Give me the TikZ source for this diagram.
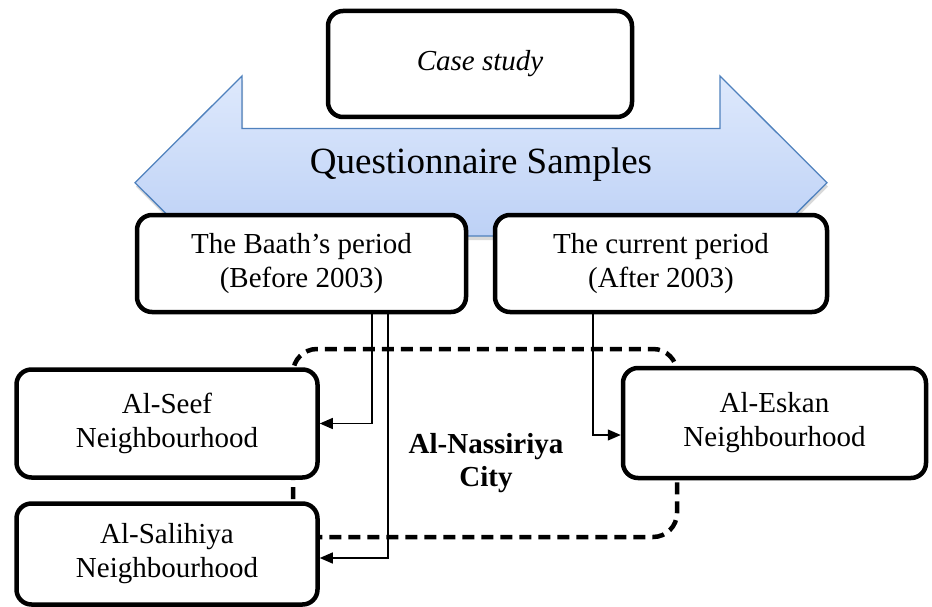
\documentclass[tikz,border=0pt]{standalone}
\usepackage{fontspec}
\setmainfont{Liberation Serif}
\usetikzlibrary{arrows.meta,shadows,calc}

\definecolor{arrowtop}{RGB}{222,233,252}
\definecolor{arrowbot}{RGB}{178,201,244}
\definecolor{arrowedge}{RGB}{79,129,189}

\tikzset{
  box/.style={draw=black, fill=white, line width=4.5pt, rounded corners=15pt,
    align=center, inner sep=0pt, font=\fontsize{29}{34}\selectfont},
  cityframe/.style={draw=black, line width=4.5pt, rounded corners=24pt,
    dash pattern=on 12pt off 7pt},
  conn/.style={line width=1.3pt, -{Triangle[length=13pt,width=11pt]}},
}

\begin{document}
\begin{tikzpicture}[x=1pt,y=-1pt]
  \useasboundingbox (0,0) rectangle (932,607);

  % dashed outline of the city area
  \draw[cityframe] (293,349) rectangle (677,537);

  % double-headed banner arrow
  \path[draw=arrowedge, line width=1.3pt, line join=miter,
        top color=arrowtop, bottom color=arrowbot,
        drop shadow={opacity=0.3, shadow xshift=1pt, shadow yshift=-4pt}]
    (242,128.5) -- (242,76) -- (135,182.7) -- (242,289.4) -- (242,236)
    -- (720,236) -- (720,289.4) -- (827,182.7) -- (720,76) -- (720,128.5) -- cycle;
  \node[font=\fontsize{37}{40}\selectfont] (qs) at (481,165) {Questionnaire Samples};

  % boxes
  \node[box, minimum width=304pt, minimum height=106pt] (case) at (480,64) {\itshape Case study};
  \node[box, minimum width=329pt, minimum height=97pt] (baath) at (301.5,263.5)
    {The Baath’s period\\(Before 2003)};
  \node[box, minimum width=332pt, minimum height=97pt] (current) at (661,263.5)
    {The current period\\(After 2003)};
  \node[box, minimum width=301pt, minimum height=108pt] (seef) at (167,423.5)
    {Al-Seef\\Neighbourhood};
  \node[box, minimum width=301pt, minimum height=101pt] (salihiya) at (167,554)
    {Al-Salihiya\\Neighbourhood};
  \node[box, minimum width=303pt, minimum height=110pt] (eskan) at (774.5,423)
    {Al-Eskan\\Neighbourhood};

  \node[font=\fontsize{29}{33}\selectfont\bfseries, align=center] (city) at (486,463)
    {Al-Nassiriya\\City};

  % connectors
  \draw[conn] ([xshift=70.5pt]baath.south) |- (seef.east);
  \draw[conn] ([xshift=86.5pt]baath.south) |- ([yshift=-4pt]salihiya.east);
  \draw[conn] ([xshift=-68pt]current.south) |- ([yshift=-12pt]eskan.west);
\end{tikzpicture}
\end{document}
